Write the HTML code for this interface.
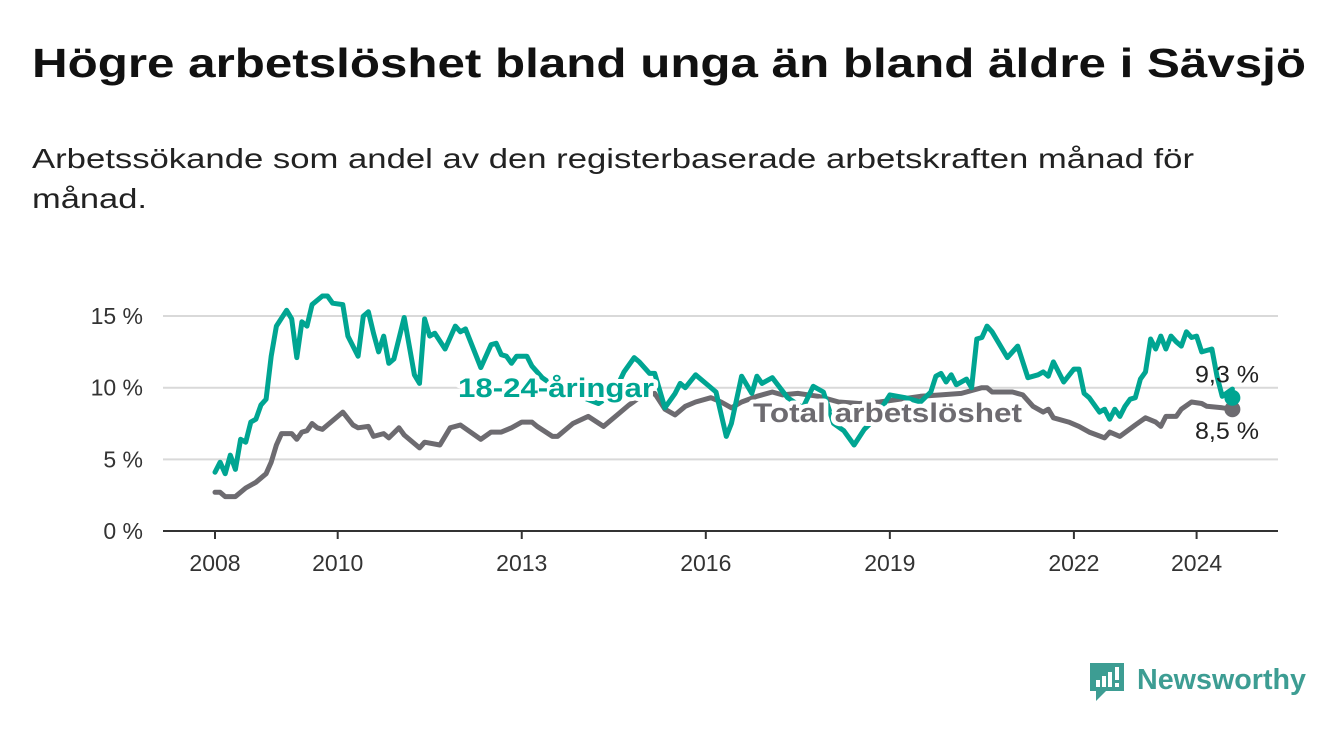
<!DOCTYPE html>
<html><head><meta charset="utf-8"><style>
html,body{margin:0;padding:0;background:#fff;}
svg{display:block;font-family:"Liberation Sans",sans-serif;}
</style></head><body>
<svg id="chart" width="1340" height="734" viewBox="0 0 1340 734">
<text x="32" y="77" font-size="41" font-weight="bold" fill="#111" textLength="1274" lengthAdjust="spacingAndGlyphs">Högre arbetslöshet bland unga än bland äldre i Sävsjö</text>
<text x="32" y="168" font-size="28" fill="#222" textLength="1162" lengthAdjust="spacingAndGlyphs">Arbetssökande som andel av den registerbaserade arbetskraften månad för</text>
<text x="32" y="208" font-size="28" fill="#222" textLength="115" lengthAdjust="spacingAndGlyphs">månad.</text>
<g id="grid"></g>
<g id="series"></g>
<g id="labels"></g>
<g>
<path d="M1090 663 h34 v28 h-18 l-10 10 v-10 h-6 z" fill="#3d9d93"/>
<rect x="1096" y="680" width="4" height="7" fill="#fff"/><rect x="1102" y="676" width="4" height="11" fill="#fff"/><rect x="1108" y="672" width="4" height="15" fill="#fff"/><rect x="1115" y="667" width="4" height="13" fill="#fff"/><rect x="1115" y="683" width="4" height="4" fill="#fff"/>
<text x="1137" y="689" font-size="29" font-weight="bold" fill="#3d9d93" textLength="169" lengthAdjust="spacingAndGlyphs">Newsworthy</text>
</g>
</svg>
<script>
const yTicks = [0, 5, 10, 15];
const yTickLabels = ["0 %", "5 %", "10 %", "15 %"];
const xTickYears = [2008, 2010, 2013, 2016, 2019, 2022, 2024];
const youthMonths = [0,1,2,3,4,5,6,7,8,9,10,11,12,14,15,16,17,18,19,21,22,23,25,26,28,29,30,31,32,33,34,35,37,39,40,41,42,43,45,47,48,49,52,54,55,56,57,58,59,61,62,64,66,68,70,72,75,78,80,82,83,85,86,88,90,91,92,94,96,98,100,101,103,105,106,107,109,112,115,117,119,121,123,125,127,129,132,135,138,140,141,142,143,144,145,147,148,149,150,151,152,155,157,159,161,162,163,164,166,168,169,170,171,173,174,175,176,177,178,179,180,181,182,183,184,185,186,187,188,189,190,191,192,193,195,196,197,199];
const youthValues = [4.1,4.8,4.0,5.3,4.3,6.4,6.2,7.6,7.8,8.8,9.2,12.2,14.3,15.4,14.8,12.1,14.6,14.3,15.8,16.4,16.4,15.9,15.8,13.6,12.2,15.0,15.3,13.8,12.5,13.6,11.7,12.0,14.9,10.9,10.3,14.8,13.6,13.8,12.7,14.3,13.9,14.1,11.4,13.0,13.1,12.3,12.2,11.7,12.2,12.2,11.5,10.7,10.2,9.6,9.9,9.3,8.9,9.6,11.1,12.1,11.8,11.0,11.0,8.6,9.6,10.3,10.0,10.9,10.3,9.7,6.6,7.5,10.8,9.6,10.8,10.3,10.7,9.3,8.6,10.1,9.7,7.5,7.0,6.0,7.1,7.8,9.5,9.3,9.0,9.7,10.8,11.0,10.4,10.9,10.2,10.6,10.0,13.4,13.5,14.3,13.9,12.1,12.9,10.7,10.9,11.1,10.8,11.8,10.4,11.3,11.3,9.6,9.3,8.3,8.5,7.8,8.5,8.0,8.7,9.2,9.3,10.6,11.1,13.4,12.7,13.6,12.7,13.6,13.2,12.9,13.9,13.5,13.6,12.5,12.7,10.8,9.4,9.9,9.3];
const totalMonths = [0,1,2,4,6,8,10,11,12,13,15,16,17,18,19,20,21,22,25,27,28,30,31,33,34,36,37,40,41,44,46,48,52,54,56,58,60,62,63,66,67,70,73,76,79,81,83,86,88,90,92,94,97,99,101,103,106,109,111,114,118,122,126,130,134,138,142,146,150,151,152,156,158,160,162,163,164,167,169,171,174,175,177,180,182,184,185,186,188,189,191,193,194,197,199];
const totalValues = [2.7,2.7,2.4,2.4,3.0,3.4,4.0,4.8,6.0,6.8,6.8,6.4,6.9,7.0,7.5,7.2,7.1,7.4,8.3,7.4,7.2,7.3,6.6,6.8,6.5,7.2,6.7,5.8,6.2,6.0,7.2,7.4,6.4,6.9,6.9,7.2,7.6,7.6,7.3,6.6,6.6,7.5,8.0,7.3,8.2,8.8,9.3,9.6,8.5,8.1,8.7,9.0,9.3,9.0,8.6,9.0,9.4,9.7,9.5,9.6,9.4,9.0,8.9,9.0,9.2,9.4,9.5,9.6,10.0,10.0,9.7,9.7,9.5,8.7,8.3,8.5,7.9,7.6,7.3,6.9,6.5,6.9,6.6,7.4,7.9,7.6,7.3,8.0,8.0,8.5,9.0,8.9,8.7,8.6,8.5];

const NS = "http://www.w3.org/2000/svg";
const plotL = 163, plotR = 1278;
function yScale(v){ return 531 - v * 14.33; }
function xScale(m){ return 215 + m * 5.1125; }
function xYear(y){ return xScale((y - 2008) * 12); }
function mk(tag, attrs, parent){ const e = document.createElementNS(NS, tag); for (const k in attrs) e.setAttribute(k, attrs[k]); parent.appendChild(e); return e; }

const grid = document.getElementById('grid');
yTicks.forEach((t, i) => {
  if (t > 0) {
    const g = mk('line', {x1: plotL, x2: plotR, y1: yScale(t), y2: yScale(t), stroke: '#d9d9d9', 'stroke-width': 2}, grid);
    
    
  }
  const lb = mk('text', {x: 143, y: yScale(t) + 8, 'font-size': 23, fill: '#333', 'text-anchor': 'end'}, grid);
  lb.textContent = yTickLabels[i];
  
  
});
const ax = mk('line', {x1: plotL, x2: plotR, y1: 531, y2: 531, stroke: '#333', 'stroke-width': 2}, grid);


xTickYears.forEach(yr => {
  const x = xYear(yr);
  const tk = mk('line', {x1: x, x2: x, y1: 531, y2: 539, stroke: '#333', 'stroke-width': 2}, grid);
  
  
  const lb = mk('text', {x: x, y: 571, 'font-size': 23, fill: '#333', 'text-anchor': 'middle'}, grid);
  lb.textContent = yr;
  
  
});

const series = document.getElementById('series');
function line(ms, vs, color, name){
  const d = ms.map((m, i) => (i ? 'L' : 'M') + xScale(m).toFixed(1) + ' ' + yScale(vs[i]).toFixed(1)).join(' ');
  const p = mk('path', {d: d, fill: 'none', stroke: color, 'stroke-width': 5, 'stroke-linejoin': 'round', 'stroke-linecap': 'round'}, series);
  
  
}
line(totalMonths, totalValues, '#6d6b70', 'total-line');
line(youthMonths, youthValues, '#00a592', 'youth-line');

const labels = document.getElementById('labels');
function txt(x, y, s, size, color, weight, name, halo, len){
  if (halo) {
    const h = mk('text', {x: x, y: y, 'font-size': size, 'font-weight': weight, fill: '#fff', stroke: '#fff', 'stroke-width': 8, 'stroke-linejoin': 'round'}, labels);
    if (len) { h.setAttribute('textLength', len); h.setAttribute('lengthAdjust', 'spacingAndGlyphs'); }
    h.textContent = s;
    
    
  }
  const t = mk('text', {x: x, y: y, 'font-size': size, 'font-weight': weight, fill: color}, labels);
  if (len) { t.setAttribute('textLength', len); t.setAttribute('lengthAdjust', 'spacingAndGlyphs'); }
  t.textContent = s;
  
  
}
txt(458, 397, '18-24-åringar', 27, '#00a592', 'bold', 'youth-series-label', true, 196);
txt(753, 422, 'Total arbetslöshet', 27, '#6d6b70', 'bold', 'total-series-label', true, 269);

const lastYM = youthMonths[youthMonths.length - 1], lastYV = youthValues[youthValues.length - 1];
const lastTM = totalMonths[totalMonths.length - 1], lastTV = totalValues[totalValues.length - 1];
const d1 = mk('circle', {cx: xScale(lastTM), cy: yScale(lastTV), r: 8, fill: '#6d6b70'}, labels);


const d2 = mk('circle', {cx: xScale(lastYM), cy: yScale(lastYV), r: 8, fill: '#00a592'}, labels);


txt(1195, yScale(lastYV) - 15, lastYV.toFixed(1).replace('.', ',') + ' %', 24, '#222', 'normal', 'youth-end-value', false, 64);
txt(1195, yScale(lastTV) + 30, lastTV.toFixed(1).replace('.', ',') + ' %', 24, '#222', 'normal', 'total-end-value', false, 64);
</script>
</body></html>
